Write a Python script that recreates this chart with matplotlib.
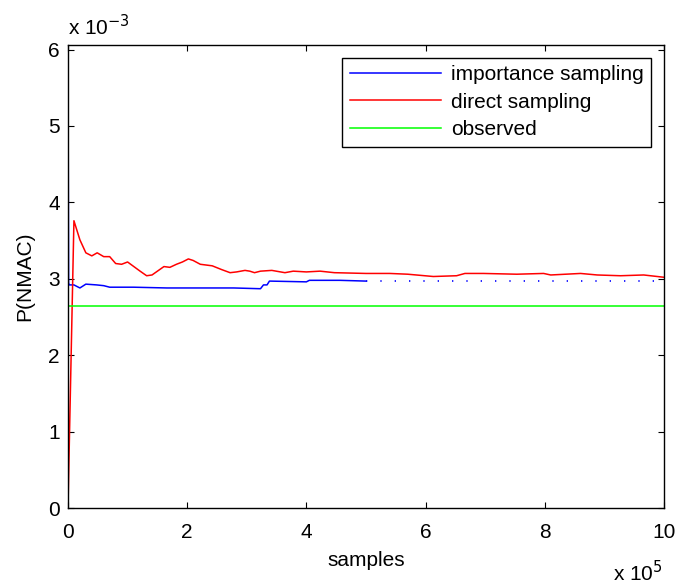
import numpy as np
import matplotlib
matplotlib.use('Agg')
from matplotlib import pyplot as plt

# x in units of 1e5 samples, y in units of 1e-3
is_x = [0, 0.01, 0.02, 0.1, 0.2, 0.3, 0.48, 0.6, 0.7, 1.1, 1.66, 2.22, 2.78, 3.23,
        3.28, 3.34, 3.38, 4.0, 4.05, 4.56, 5.0]
is_y = [6.06, 2.95, 2.92, 2.92, 2.88, 2.93, 2.92, 2.91, 2.89, 2.89, 2.88, 2.88, 2.88, 2.87,
        2.92, 2.92, 2.97, 2.96, 2.98, 2.98, 2.97]

# dotted extension of importance sampling estimate
is_ext_x = [5.0, 10.0]
is_ext_y = [2.97, 2.97]

ds_x = [0, 0.1, 0.2, 0.3, 0.4, 0.49, 0.6, 0.7, 0.8, 0.9, 1.0, 1.21, 1.32, 1.41, 1.61,
        1.71, 1.82, 1.92, 2.02, 2.1, 2.22, 2.42, 2.58, 2.72, 2.83, 2.97, 3.05, 3.13,
        3.23, 3.42, 3.64, 3.78, 4.0, 4.23, 4.47, 5.0, 5.4, 5.7, 6.13, 6.52, 6.66,
        6.97, 7.53, 7.98, 8.1, 8.6, 8.88, 9.27, 9.66, 10.0]
ds_y = [0, 3.76, 3.51, 3.34, 3.30, 3.34, 3.29, 3.29, 3.20, 3.19, 3.22, 3.10, 3.04, 3.05,
        3.16, 3.15, 3.19, 3.22, 3.26, 3.24, 3.19, 3.17, 3.12, 3.08, 3.09, 3.11, 3.10,
        3.08, 3.10, 3.11, 3.08, 3.10, 3.09, 3.10, 3.08, 3.07, 3.07, 3.06, 3.03, 3.04,
        3.07, 3.07, 3.06, 3.07, 3.05, 3.07, 3.05, 3.04, 3.05, 3.02]

obs_x = [0, 10]
obs_y = [2.65, 2.65]

plt.rcParams['font.family'] = ['Liberation Sans', 'DejaVu Sans']
fs = 15

fig = plt.figure(figsize=(6.75, 5.86), dpi=100)
ax = fig.add_axes([0.1007, 0.1331, 0.8830, 0.7901])

ax.plot(is_x, is_y, color='#0000ff', lw=1.1, label='importance sampling')
ax.plot(ds_x, ds_y, color='#ff0000', lw=1.1, label='direct sampling')
ax.plot(obs_x, obs_y, color='#00ff00', lw=1.1, label='observed')
ax.plot(is_ext_x, is_ext_y, color='#0000ff', lw=1.2, linestyle=(0, (0.8, 7.8)))

ax.set_xlim(0, 10)
ax.set_ylim(0, 6.06)
ax.set_xticks([0, 2, 4, 6, 8, 10])
ax.set_yticks([0, 1, 2, 3, 4, 5, 6])
ax.tick_params(direction='in', length=4, width=0.8, top=True, right=True,
               labelsize=fs)
ax.tick_params(axis='x', pad=11)
ax.tick_params(axis='y', pad=6)
for s in ax.spines.values():
    s.set_linewidth(1.0)

ax.set_xlabel('samples', fontsize=fs, labelpad=6)
ax.set_ylabel('P(NMAC)', fontsize=fs, labelpad=10)

fig.text(68 / 675, 1 - 27 / 586, r'x 10$^{-3}$', fontsize=fs, ha='left', va='center')
fig.text(663 / 675, 1 - 573 / 586, r'x 10$^{5}$', fontsize=fs, ha='right', va='center')

leg = ax.legend(loc='upper right', fontsize=fs, frameon=True, fancybox=False,
                handlelength=4.4, handletextpad=0.45, labelspacing=0.4,
                borderaxespad=0.6, borderpad=0.38)
leg.get_frame().set_edgecolor('black')
leg.get_frame().set_linewidth(1.0)
leg.get_frame().set_alpha(1)

plt.savefig('out.png', dpi=100)
